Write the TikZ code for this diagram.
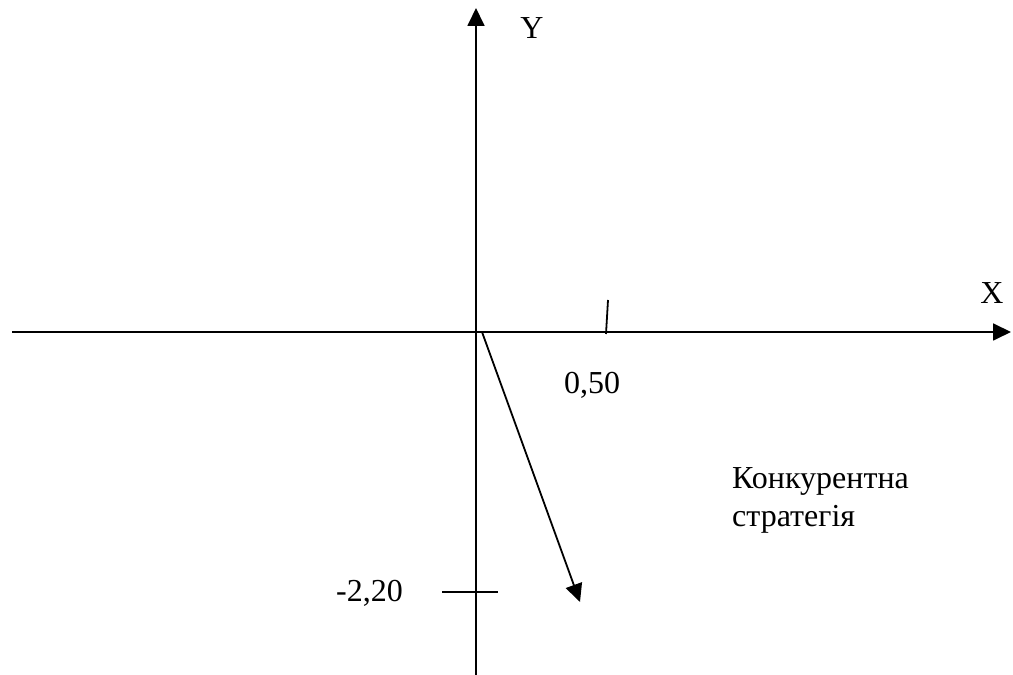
\documentclass[tikz,border=0pt]{standalone}
\usepackage{fontspec}
\setmainfont{Liberation Serif}
\usetikzlibrary{arrows.meta}
\begin{document}
\begin{tikzpicture}[x=1pt,y=1pt,
  axis/.style={line width=1.8pt,-{Triangle[length=18pt,width=17pt]}},
  tickline/.style={line width=1.8pt},
  lbl/.style={inner sep=0pt,font=\fontsize{32}{38}\selectfont}]
\useasboundingbox (0,0) rectangle (1013,675);
% axes
\coordinate (xl) at (12,343);
\coordinate (xr) at (1011,343);
\coordinate (yb) at (476,0);
\coordinate (yt) at (476,667);
\draw[axis] (xl) -- (xr);
\draw[axis] (yb) -- (yt);
% ticks
\coordinate (t1a) at (608,375);
\coordinate (t1b) at (606,341);
\draw[tickline] (t1a) -- (t1b);
\coordinate (t2a) at (442,83);
\coordinate (t2b) at (498,83);
\draw[tickline] (t2a) -- (t2b);
% vector
\coordinate (o) at (482,343);
\coordinate (v) at (580,73);
\draw[axis] (o) -- (v);
% labels
\node[lbl] (ly) at (532,647) {Y};
\node[lbl] (lx) at (992,382) {X};
\node[lbl] (l050) at (592,290) {0,50};
\node[lbl,anchor=east] (l220) at (403,82) {-2,20};
\node[lbl,anchor=base west] (c1) at (732,186) {Конкурентна};
\node[lbl,anchor=base west] (c2) at (732,148) {стратегія};
\end{tikzpicture}
\end{document}
